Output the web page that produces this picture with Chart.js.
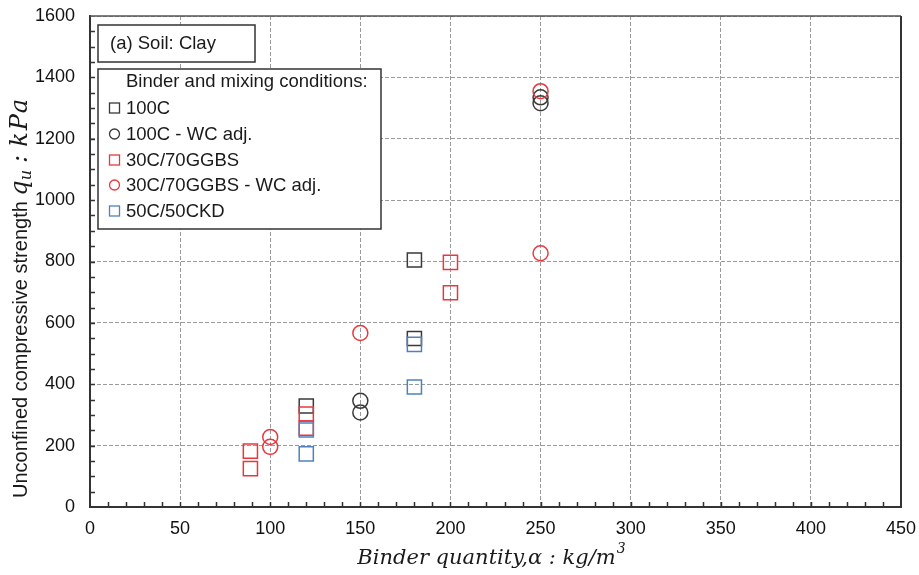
<!DOCTYPE html>
<html>
<head>
<meta charset="utf-8">
<script src="https://cdn.jsdelivr.net/npm/chart.js@4.4.1/dist/chart.umd.min.js"></script>
<style>
  html, body { margin: 0; padding: 0; background: #fff; }
</style>
</head>
<body>
<canvas id="chart" width="919" height="575"></canvas>
<script>
// axis ticks
const xTicks = [0, 50, 100, 150, 200, 250, 300, 350, 400, 450];
const yTicks = [0, 200, 400, 600, 800, 1000, 1200, 1400, 1600];

// series names (legend order)
const seriesNames = ['100C', '100C - WC adj.', '30C/70GGBS', '30C/70GGBS - WC adj.', '50C/50CKD'];

// values
const c100X = [120, 180, 180];
const c100Y = [329, 805, 549];

const c100WcX = [150, 150, 250, 250];
const c100WcY = [346, 308, 1335, 1316];

const ggbsX = [89, 89, 120, 120, 200, 200];
const ggbsY = [182, 125, 303, 257, 797, 698];

const ggbsWcX = [100, 100, 150, 250, 250];
const ggbsWcY = [228, 196, 567, 1355, 827];

const ckdX = [120, 120, 180, 180];
const ckdY = [251, 173, 530, 391];

const BLACK = '#3a3a3a';
const RED = '#e8383d';
const BLUE = '#4f81bd';

const SANS = '"Liberation Sans", Arial, sans-serif';
const MATH = '"DejaVu Serif", "Liberation Serif", serif';

const toPoints = (xs, ys) => xs.map((x, i) => ({ x: x, y: ys[i] }));

const seriesStyle = [
  { color: BLACK, style: 'rect' },
  { color: BLACK, style: 'circle' },
  { color: RED, style: 'rect' },
  { color: RED, style: 'circle' },
  { color: BLUE, style: 'rect' }
];
const seriesData = [
  toPoints(c100X, c100Y),
  toPoints(c100WcX, c100WcY),
  toPoints(ggbsX, ggbsY),
  toPoints(ggbsWcX, ggbsWcY),
  toPoints(ckdX, ckdY)
];

const datasets = seriesNames.map((name, i) => ({
  label: name,
  data: seriesData[i],
  pointStyle: seriesStyle[i].style,
  pointRadius: seriesStyle[i].style === 'rect' ? 10 : 7.5,
  pointHoverRadius: seriesStyle[i].style === 'rect' ? 10 : 7.5,
  borderColor: seriesStyle[i].color,
  backgroundColor: 'rgba(0,0,0,0)',
  borderWidth: 1.5,
  showLine: false,
  order: seriesNames.length - 1 - i
}));

// keep the plot area where the original has it
const noScalePadding = (scale) => {
  scale.paddingLeft = 0;
  scale.paddingRight = 0;
  scale.paddingTop = 0;
  scale.paddingBottom = 0;
};

// minor ticks, frame, titles and the boxed legend
const decorations = {
  id: 'decorations',
  afterDraw(chart) {
    const ctx = chart.ctx;
    const { left, right, top, bottom } = chart.chartArea;
    const xs = chart.scales.x, ys = chart.scales.y;

    ctx.save();
    // top + right frame
    ctx.strokeStyle = '#555';
    ctx.lineWidth = 1.5;
    ctx.beginPath();
    ctx.moveTo(left, top);
    ctx.lineTo(right, top);
    ctx.stroke();
    ctx.strokeStyle = '#333';
    ctx.lineWidth = 2;
    ctx.beginPath();
    ctx.moveTo(right, top);
    ctx.lineTo(right, bottom + 1);
    ctx.stroke();

    // minor ticks (inward)
    ctx.strokeStyle = '#333';
    ctx.lineWidth = 1.5;
    ctx.beginPath();
    for (let v = 10; v < 450; v += 10) {
      const px = Math.round(xs.getPixelForValue(v)) + 0.5;
      ctx.moveTo(px, bottom);
      ctx.lineTo(px, bottom - 5);
    }
    for (let v = 50; v < 1600; v += 50) {
      const py = Math.round(ys.getPixelForValue(v)) + 0.5;
      ctx.moveTo(left, py);
      ctx.lineTo(left + 5, py);
    }
    ctx.stroke();

    // annotation box
    ctx.fillStyle = '#fff';
    ctx.strokeStyle = '#333';
    ctx.lineWidth = 1.5;
    ctx.fillRect(98, 25, 157, 37);
    ctx.strokeRect(98, 25, 157, 37);
    ctx.fillStyle = '#1a1a1a';
    ctx.font = '18.5px ' + SANS;
    ctx.textBaseline = 'middle';
    ctx.textAlign = 'left';
    ctx.fillText('(a) Soil: Clay', 110, 44);

    // legend box
    ctx.fillStyle = '#fff';
    ctx.fillRect(98, 69, 283, 160);
    ctx.strokeRect(98, 69, 283, 160);
    ctx.fillStyle = '#1a1a1a';
    ctx.fillText('Binder and mixing conditions:', 126, 82);
    const rowY = [108, 134, 160, 185, 211];
    seriesNames.forEach((name, i) => {
      const y = rowY[i];
      ctx.strokeStyle = seriesStyle[i].color;
      ctx.lineWidth = 1.3;
      if (seriesStyle[i].style === 'rect') {
        ctx.strokeRect(109.5, y - 5, 10, 10);
      } else {
        ctx.beginPath();
        ctx.arc(114.5, y, 5, 0, Math.PI * 2);
        ctx.stroke();
      }
      ctx.fillStyle = '#1a1a1a';
      ctx.fillText(name, 126, y + 1);
    });

    // x axis title
    ctx.textBaseline = 'alphabetic';
    ctx.fillStyle = '#1a1a1a';
    const xMain = 'Binder quantity,\u03B1 : kg/m';
    ctx.font = 'italic 21px ' + MATH;
    const wMain = ctx.measureText(xMain).width;
    ctx.font = 'italic 14px ' + MATH;
    const wSup = ctx.measureText('3').width;
    const x0 = 491 - (wMain + wSup) / 2;
    ctx.font = 'italic 21px ' + MATH;
    ctx.fillText(xMain, x0, 564);
    ctx.font = 'italic 14px ' + MATH;
    ctx.fillText('3', x0 + wMain + 1, 553);

    // y axis title (rotated)
    ctx.translate(27, 498);
    ctx.rotate(-Math.PI / 2);
    let cx = 0;
    ctx.font = '20px ' + SANS;
    const sansPart = 'Unconfined compressive strength ';
    ctx.fillText(sansPart, cx, 0);
    cx += ctx.measureText(sansPart).width;
    ctx.font = 'italic 24px ' + MATH;
    ctx.fillText('q', cx, 0);
    cx += ctx.measureText('q').width;
    ctx.font = 'italic 16px ' + MATH;
    ctx.fillText('u', cx, 4);
    cx += ctx.measureText('u').width + 7;
    ctx.font = 'italic 24px ' + MATH;
    ctx.fillText(':', cx, 0);
    cx += ctx.measureText(':').width + 8;
    ctx.letterSpacing = '2px';
    ctx.fillText('kPa', cx, 0);
    ctx.restore();
  }
};

const ctx = document.getElementById('chart').getContext('2d');
new Chart(ctx, {
  type: 'scatter',
  data: { datasets: datasets },
  options: {
    responsive: false,
    animation: false,
    devicePixelRatio: 1,
    layout: { padding: { top: 16, right: 18, left: 0, bottom: 0 } },
    plugins: {
      legend: { display: false },
      tooltip: { enabled: false },
      title: { display: false }
    },
    scales: {
      x: {
        type: 'linear',
        min: 0,
        max: 450,
        afterFit(scale) { scale.height = 68; noScalePadding(scale); },
        afterBuildTicks(scale) { scale.ticks = xTicks.map(v => ({ value: v })); },
        ticks: {
          padding: 11,
          color: '#111',
          font: { family: SANS, size: 18 },
          callback: (v) => String(v)
        },
        grid: { color: '#9a9a9a', lineWidth: 1, drawTicks: false },
        border: { color: '#333', width: 2, dash: [4, 2] }
      },
      y: {
        type: 'linear',
        min: 0,
        max: 1600,
        afterFit(scale) { scale.width = 90; noScalePadding(scale); },
        afterBuildTicks(scale) { scale.ticks = yTicks.map(v => ({ value: v })); },
        ticks: {
          padding: 15,
          color: '#111',
          font: { family: SANS, size: 18 },
          callback: (v) => String(v)
        },
        grid: { color: '#9a9a9a', lineWidth: 1, drawTicks: false },
        border: { color: '#333', width: 2, dash: [4, 2] }
      }
    }
  },
  plugins: [decorations]
});
</script>
</body>
</html>
